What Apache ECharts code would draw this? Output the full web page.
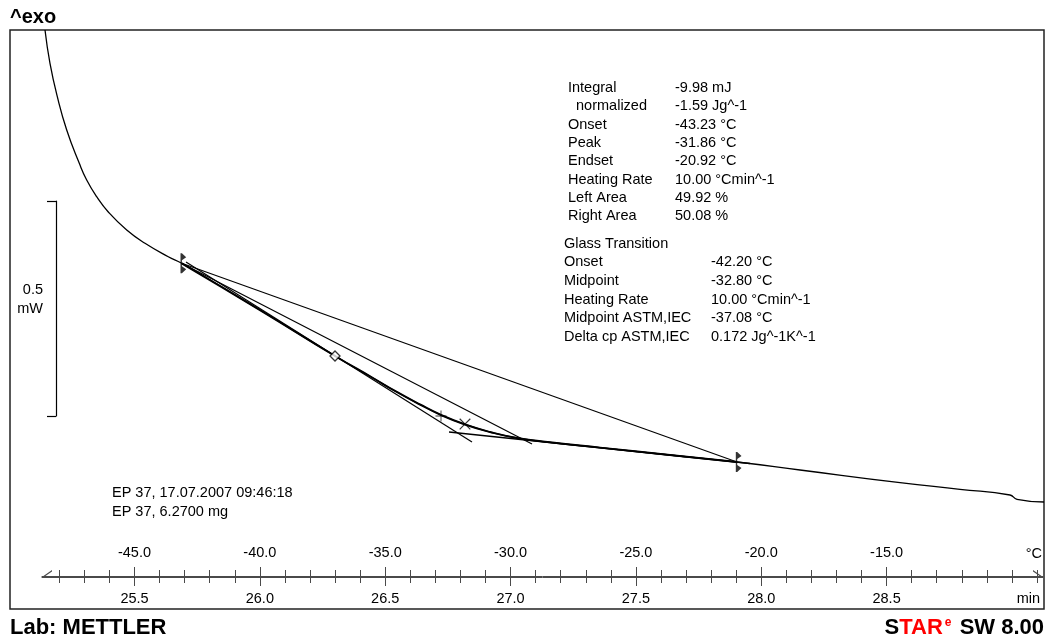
<!DOCTYPE html>
<html>
<head>
<meta charset="utf-8">
<title>DSC EP 37</title>
<script src="https://cdn.jsdelivr.net/npm/echarts@6/dist/echarts.min.js"></script>
<style>
html, body { margin: 0; padding: 0; background: #fff; }
#main { width: 1049px; height: 640px; }
</style>
</head>
<body>
<div id="main"></div>
<script>
// DSC curve, time in min / heat flow in mW (offset arbitrary)
var curveTime = [25.1430, 25.1629, 25.1921, 25.2296, 25.2798, 25.3093, 25.3492, 25.3955, 25.4689, 25.5419,
    25.6348, 25.6883, 26.0006, 26.2998, 26.4513, 26.5391, 26.6388, 26.7226, 26.8183, 26.9180,
    27.0257, 27.1574, 27.3568, 27.6360, 27.9033, 28.1546, 28.5535, 28.7928, 28.9922, 29.0201, 29.1278];
var curveFlow = [1.3465, 1.2691, 1.1914, 1.1140, 1.0365, 0.9977, 0.9588, 0.9233, 0.8814, 0.8505,
    0.8193, 0.8040, 0.6953, 0.5884, 0.5372, 0.5070, 0.4756, 0.4512, 0.4291, 0.4116,
    0.3977, 0.3877, 0.3753, 0.3581, 0.3419, 0.3233, 0.2937, 0.2784, 0.2651, 0.2551, 0.2488];

// integration limits (onset / endset) and evaluation lines
var limitTime = [25.6883, 27.9033];
var limitFlow = [0.8040, 0.3419];
var tangentTime = [25.6883, 27.0856];
var tangentFlow = [0.8040, 0.3837];
var preTime = [25.7054, 26.8462];
var preFlow = [0.8070, 0.3884];
var postTime = [26.7545, 27.9551];
var postFlow = [0.4116, 0.3384];

// markers: midpoint ASTM (diamond), midpoint (+), peak (x)
var astmTime = [26.2998], astmFlow = [0.5884];
var midTime = [26.7226], midFlow = [0.4488];
var peakTime = [26.8183], peakFlow = [0.4302];

// axis ticks
var timeMajor = [25.5, 26.0, 26.5, 27.0, 27.5, 28.0, 28.5];
var timeMinor = [25.2, 25.3, 25.4, 25.5, 25.6, 25.7, 25.8, 25.9, 26.0, 26.1, 26.2, 26.3, 26.4, 26.5,
    26.6, 26.7, 26.8, 26.9, 27.0, 27.1, 27.2, 27.3, 27.4, 27.5, 27.6, 27.7, 27.8, 27.9, 28.0, 28.1,
    28.2, 28.3, 28.4, 28.5, 28.6, 28.7, 28.8, 28.9, 29.0, 29.1];
var tempMajor = [-45, -40, -35, -30, -25, -20, -15];
var tempMinor = [-48, -47, -46, -45, -44, -43, -42, -41, -40, -39, -38, -37, -36, -35, -34, -33,
    -32, -31, -30, -29, -28, -27, -26, -25, -24, -23, -22, -21, -20, -19, -18, -17, -16, -15,
    -14, -13, -12, -11, -10, -9];

// result table texts
var infoLabels = ['Integral', '  normalized', 'Onset', 'Peak', 'Endset', 'Heating Rate', 'Left Area', 'Right Area'];
var infoValues = ['-9.98 mJ', '-1.59 Jg^-1', '-43.23 °C', '-31.86 °C', '-20.92 °C', '10.00 °Cmin^-1', '49.92 %', '50.08 %'];
var glassLabels = ['Glass Transition', 'Onset', 'Midpoint', 'Heating Rate', 'Midpoint ASTM,IEC', 'Delta cp ASTM,IEC'];
var glassValues = ['', '-42.20 °C', '-32.80 °C', '10.00 °Cmin^-1', '-37.08 °C', '0.172 Jg^-1K^-1'];
var sampleLines = ['EP 37, 17.07.2007 09:46:18', 'EP 37, 6.2700 mg'];

var FONT = '"Liberation Sans", Arial, sans-serif';
var axisColor = '#4a4a4a';

function pair(xs, ys) {
    return xs.map(function (x, i) { return [x, ys[i]]; });
}
// pixel <-> time scale of the original plot (25.5 min at x=134.5, 250.7 px per min)
function tAt(px) { return 25.5 + (px - 134.5) / 250.7; }
function tempAt(t) { return -45 + (t - 25.5) * 10; }

var axisMin = tAt(42), axisMax = tAt(1043);
var curve = pair(curveTime, curveFlow);
var iOn = curveTime.indexOf(limitTime[0]), iEnd = curveTime.indexOf(limitTime[1]);

var limitSymbol = 'path://M3.3,0 L4.7,0 L4.7,20 L3.3,20 Z M4.7,0 L9,4 L4.7,7 Z M4.7,13 L9,16 L4.7,20 Z M0,0 Z';
var plusSymbol = 'path://M4.6,0 L5.4,0 L5.4,4.6 L10,4.6 L10,5.4 L5.4,5.4 L5.4,10 L4.6,10 L4.6,5.4 L0,5.4 L0,4.6 L4.6,4.6 Z';
var arrowStart = 'path://M7,0 L14,10 L12.6,10 L7,2 Z M0,10 Z';
var arrowEnd = 'path://M7,0 L0,10 L1.4,10 L7,2 Z M14,10 Z';

function line(name, xs, ys, width) {
    return {
        name: name, type: 'line', xAxisIndex: 0, yAxisIndex: 0,
        data: pair(xs, ys), showSymbol: false, silent: true,
        lineStyle: { color: '#000', width: width }
    };
}

var myChart = echarts.init(document.getElementById('main'));
myChart.setOption({
    animation: false,
    textStyle: { fontFamily: FONT },
    grid: [
        { left: 10, right: 5, top: 30, bottom: 31, show: true, borderColor: '#222', borderWidth: 1.5 },
        { left: 42, right: 6, top: 576, height: 1 },
        { left: 56, top: 201, height: 215, width: 1 }
    ],
    xAxis: [
        { gridIndex: 0, type: 'value', min: tAt(10), max: tAt(1044), show: false },
        {
            gridIndex: 1, type: 'value', position: 'bottom', min: axisMin, max: axisMax,
            axisLine: {
                show: true, lineStyle: { color: axisColor, width: 1 },
                symbol: [arrowStart, arrowEnd], symbolSize: [14, 10], symbolOffset: [5, -5]
            },
            axisTick: { show: true, inside: false, length: 6, customValues: timeMinor, lineStyle: { color: axisColor } },
            axisLabel: { show: false }, splitLine: { show: false }
        },
        {
            gridIndex: 1, type: 'value', position: 'bottom', min: axisMin, max: axisMax,
            axisLine: { show: false },
            axisTick: { show: true, inside: false, length: 9, customValues: timeMajor, lineStyle: { color: axisColor } },
            axisLabel: {
                show: true, customValues: timeMajor, margin: 14, fontSize: 14.5, color: '#000',
                formatter: function (v) { return v.toFixed(1); }
            },
            splitLine: { show: false },
            name: 'min', nameLocation: 'end', nameGap: -3,
            nameTextStyle: { fontSize: 14.5, color: '#000', align: 'right', verticalAlign: 'top', padding: [14, 0, 0, 0] }
        },
        {
            gridIndex: 1, type: 'value', position: 'top', min: tempAt(axisMin), max: tempAt(axisMax),
            axisLine: { show: true, lineStyle: { color: axisColor, width: 1 } },
            axisTick: { show: true, inside: false, length: 6, customValues: tempMinor, lineStyle: { color: axisColor } },
            axisLabel: { show: false }, splitLine: { show: false }
        },
        {
            gridIndex: 1, type: 'value', position: 'top', min: tempAt(axisMin), max: tempAt(axisMax),
            axisLine: { show: false },
            axisTick: { show: true, inside: false, length: 9, customValues: tempMajor, lineStyle: { color: axisColor } },
            axisLabel: {
                show: true, customValues: tempMajor, margin: 16, fontSize: 14.5, color: '#000',
                formatter: function (v) { return v.toFixed(1); }
            },
            splitLine: { show: false },
            name: '°C', nameLocation: 'end', nameGap: -1,
            nameTextStyle: { fontSize: 14.5, color: '#000', align: 'right', verticalAlign: 'bottom', padding: [0, 0, 15, 0] }
        },
        { gridIndex: 2, type: 'value', show: false }
    ],
    yAxis: [
        { gridIndex: 0, type: 'value', min: 0, max: (609 - 30) / 430, show: false },
        { gridIndex: 1, type: 'value', min: 0, max: 1, show: false },
        {
            gridIndex: 2, type: 'value', position: 'left', min: 0, max: 0.5, interval: 0.5,
            axisLine: { show: true, lineStyle: { color: '#000', width: 1.2 } },
            axisTick: { show: true, inside: false, length: 9, lineStyle: { color: '#000', width: 1.2 } },
            axisLabel: { show: false }, splitLine: { show: false },
            name: '0.5\nmW\n ', nameLocation: 'middle', nameGap: 13, nameRotate: 0,
            nameTextStyle: { fontSize: 14.5, color: '#000', align: 'right', lineHeight: 19 }
        }
    ],
    series: [
        {
            name: 'DSC', type: 'line', xAxisIndex: 0, yAxisIndex: 0, data: curve,
            showSymbol: false, smooth: 0.5, silent: true, lineStyle: { color: '#000', width: 1.3 }
        },
        {
            name: 'evaluated', type: 'line', xAxisIndex: 0, yAxisIndex: 0, data: curve.slice(iOn, iEnd + 1),
            showSymbol: false, smooth: 0.5, silent: true, lineStyle: { color: '#000', width: 2 }
        },
        line('baseline', limitTime, limitFlow, 1.2),
        line('tangent', tangentTime, tangentFlow, 1.2),
        line('pre', preTime, preFlow, 1.2),
        line('post', postTime, postFlow, 1.4),
        {
            name: 'limits', type: 'scatter', xAxisIndex: 0, yAxisIndex: 0, data: pair(limitTime, limitFlow),
            symbol: limitSymbol, symbolSize: [9, 20], silent: true, itemStyle: { color: '#000' }, z: 5
        },
        {
            name: 'midpoint ASTM', type: 'scatter', xAxisIndex: 0, yAxisIndex: 0, data: pair(astmTime, astmFlow),
            symbol: 'diamond', symbolSize: 10, silent: true,
            itemStyle: { color: '#fff', borderColor: '#000', borderWidth: 1.3 }, z: 5
        },
        {
            name: 'midpoint', type: 'scatter', xAxisIndex: 0, yAxisIndex: 0, data: pair(midTime, midFlow),
            symbol: plusSymbol, symbolSize: 11, silent: true, itemStyle: { color: '#000' }, z: 5
        },
        {
            name: 'peak', type: 'scatter', xAxisIndex: 0, yAxisIndex: 0, data: pair(peakTime, peakFlow),
            symbol: plusSymbol, symbolSize: 15, symbolRotate: 45, silent: true, itemStyle: { color: '#000' }, z: 5
        }
    ],
    graphic: [
        { type: 'text', x: 10, y: 17, style: { text: '^exo', font: 'bold 20px ' + FONT, fill: '#000', verticalAlign: 'middle' } },
        { type: 'text', x: 568, y: 79, style: { text: infoLabels.join('\n'), font: '14.5px ' + FONT, lineHeight: 18.3, fill: '#000', verticalAlign: 'top' } },
        { type: 'text', x: 675, y: 79, style: { text: infoValues.join('\n'), font: '14.5px ' + FONT, lineHeight: 18.3, fill: '#000', verticalAlign: 'top' } },
        { type: 'text', x: 564, y: 234.5, style: { text: glassLabels.join('\n'), font: '14.5px ' + FONT, lineHeight: 18.6, fill: '#000', verticalAlign: 'top' } },
        { type: 'text', x: 711, y: 234.5, style: { text: glassValues.join('\n'), font: '14.5px ' + FONT, lineHeight: 18.6, fill: '#000', verticalAlign: 'top' } },
        { type: 'text', x: 112, y: 483.5, style: { text: sampleLines.join('\n'), font: '14.5px ' + FONT, lineHeight: 19, fill: '#000', verticalAlign: 'top' } },
        { type: 'text', x: 10, y: 628, style: { text: 'Lab: METTLER', font: 'bold 22px ' + FONT, fill: '#000', verticalAlign: 'middle' } },
        {
            type: 'text', x: 1044, y: 628,
            style: {
                text: '{b|S}{r|TAR}{e|e}{b| SW 8.00}', align: 'right', verticalAlign: 'middle',
                rich: {
                    b: { font: 'bold 22px ' + FONT, fill: '#000' },
                    r: { font: 'bold 22px ' + FONT, fill: '#ff0000' },
                    e: { font: 'bold 12px ' + FONT, fill: '#ff0000', verticalAlign: 'top', padding: [0, 2, 0, 2] }
                }
            }
        }
    ]
});
</script>
</body>
</html>
